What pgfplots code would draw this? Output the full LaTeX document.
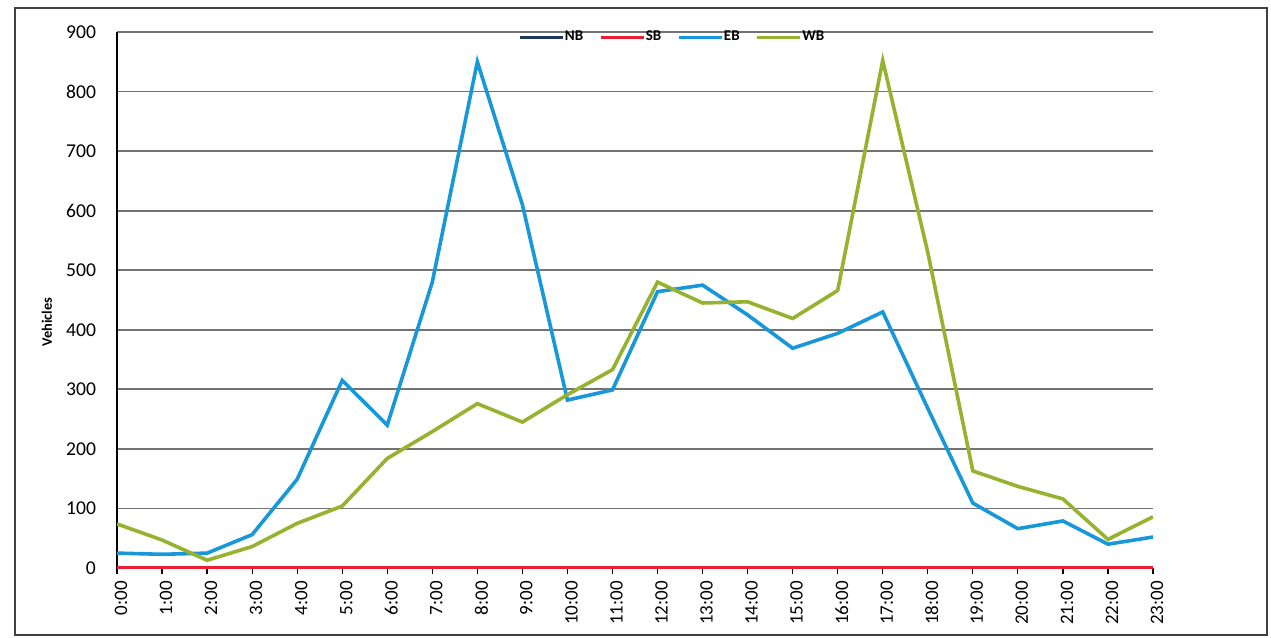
\documentclass[border=0pt]{standalone}
\usepackage{fontspec}
\setmainfont{Carlito}
\usepackage{pgfplots}
\pgfplotsset{compat=1.18}
\definecolor{nbc}{RGB}{31,56,96}
\definecolor{sbc}{RGB}{238,30,52}
\definecolor{ebc}{RGB}{24,152,216}
\definecolor{wbc}{RGB}{150,178,46}
\begin{document}
\begin{tikzpicture}[x=1pt,y=1pt]
\useasboundingbox (0,0) rectangle (635.5,319);
\fill[white] (0,0) rectangle (635.5,319);
\draw[line width=0.8pt, black!75] (7.5,1.5) rectangle (633.5,315);
\begin{axis}[
  at={(58.5pt,35pt)}, anchor=south west,
  scale only axis, width=518pt, height=268pt,
  xmin=0, xmax=23, ymin=0, ymax=900,
  axis lines*=left,
  axis line style={black, line width=0.75pt},
  ytick={0,100,...,900},
  ymajorgrids, grid style={black!55, line width=0.9pt},
  ytick style={draw=none},
  xtick={0,...,23},
  xticklabels={0:00,1:00,2:00,3:00,4:00,5:00,6:00,7:00,8:00,9:00,10:00,11:00,12:00,13:00,14:00,15:00,16:00,17:00,18:00,19:00,20:00,21:00,22:00,23:00},
  xtick style={black, line width=0.6pt},
  major tick length=3pt, tick align=outside,
  xticklabel style={rotate=90, anchor=east, yshift=-2pt, font=\fontsize{9.5}{10}\selectfont},
  yticklabel style={xshift=-4pt, font=\fontsize{9.8}{10}\selectfont},
  /pgf/number format/assume math mode=true,
  ylabel={Vehicles},
  ylabel style={font=\bfseries\fontsize{7.2}{8}\selectfont, at={(axis description cs:-0.0676,0.459)}, anchor=center},
  legend columns=4,
  legend style={at={(axis description cs:0.537,0.99)}, anchor=center, draw=none, fill=none,
    font=\bfseries\fontsize{7.5}{8}\selectfont, inner sep=0pt,
    /tikz/every even column/.append style={column sep=6pt},
    /tikz/every odd column/.append style={column sep=-2pt}},
  legend image code/.code={\draw[#1] (0pt,0pt) -- (21.5pt,0pt);},
  every axis plot/.append style={line width=1.8pt, mark=none},
]
\addplot[nbc] coordinates {(0,0)(1,0)(2,0)(3,0)(4,0)(5,0)(6,0)(7,0)(8,0)(9,0)(10,0)(11,0)(12,0)(13,0)(14,0)(15,0)(16,0)(17,0)(18,0)(19,0)(20,0)(21,0)(22,0)(23,0)};
\addlegendentry{NB}
\addplot[sbc] coordinates {(0,0)(1,0)(2,0)(3,0)(4,0)(5,0)(6,0)(7,0)(8,0)(9,0)(10,0)(11,0)(12,0)(13,0)(14,0)(15,0)(16,0)(17,0)(18,0)(19,0)(20,0)(21,0)(22,0)(23,0)};
\addlegendentry{SB}
\addplot[ebc] coordinates {(0,25)(1,23)(2,25)(3,56)(4,149)(5,315)(6,240)(7,480)(8,850)(9,610)(10,282)(11,299)(12,464)(13,475)(14,425)(15,369)(16,394)(17,430)(18,268)(19,109)(20,66)(21,79)(22,40)(23,52)};
\addlegendentry{EB}
\addplot[wbc] coordinates {(0,74)(1,47)(2,13)(3,36)(4,75)(5,104)(6,184)(7,229)(8,276)(9,245)(10,291)(11,333)(12,480)(13,445)(14,447)(15,419)(16,466)(17,852)(18,530)(19,163)(20,137)(21,116)(22,48)(23,86)};
\addlegendentry{WB}
\end{axis}
\end{tikzpicture}
\end{document}
